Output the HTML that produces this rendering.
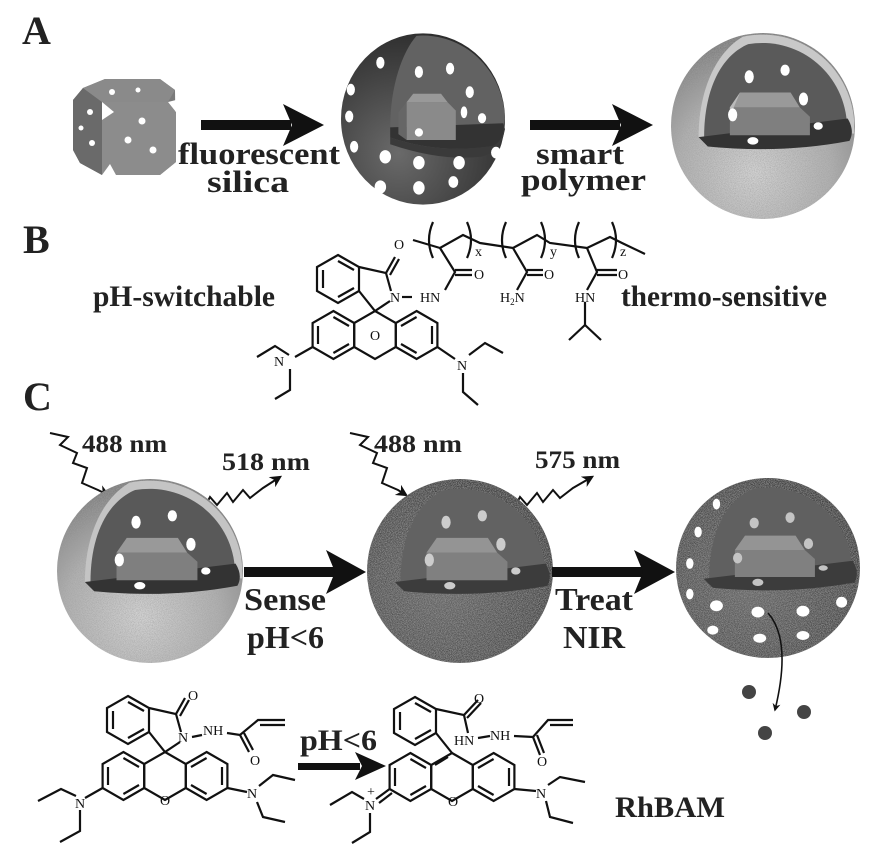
<!DOCTYPE html>
<html><head><meta charset="utf-8"><style>
html,body{margin:0;padding:0;background:#fff;}
svg{display:block;}
text{font-family:"Liberation Serif",serif;font-weight:bold;fill:#222;}
.at{font-family:"Liberation Serif",serif;font-weight:normal;font-size:14px;fill:#111;}
</style></head><body>
<svg width="884" height="858" viewBox="0 0 884 858" xmlns="http://www.w3.org/2000/svg">
<defs>
<radialGradient id="gDark" cx="0.35" cy="0.7" r="0.75"><stop offset="0" stop-color="#6a6a6a"/><stop offset="0.6" stop-color="#444"/><stop offset="1" stop-color="#2c2c2c"/></radialGradient>
<radialGradient id="gLight" cx="0.45" cy="0.75" r="0.7"><stop offset="0" stop-color="#d4d4d4"/><stop offset="0.6" stop-color="#b0b0b0"/><stop offset="1" stop-color="#808080"/></radialGradient>
<radialGradient id="gMid" cx="0.4" cy="0.6" r="0.7"><stop offset="0" stop-color="#666"/><stop offset="0.7" stop-color="#4a4a4a"/><stop offset="1" stop-color="#333"/></radialGradient>
<filter id="fuzz" x="-5%" y="-5%" width="110%" height="110%">
<feTurbulence type="fractalNoise" baseFrequency="1.1" numOctaves="2" seed="3" result="n"/>
<feColorMatrix in="n" type="matrix" values="0 0 0 0 0.35  0 0 0 0 0.35  0 0 0 0 0.35  0 0 0 1.6 -0.55" result="na"/>
<feComposite in="na" in2="SourceGraphic" operator="in" result="nc"/>
<feMerge><feMergeNode in="SourceGraphic"/><feMergeNode in="nc"/></feMerge>
</filter>
<marker id="ah" viewBox="0 0 10 10" refX="8" refY="5" markerWidth="6" markerHeight="6" orient="auto"><path d="M0,0 L10,5 L0,10 L3,5 Z" fill="#111"/></marker>
<marker id="ahs" viewBox="0 0 10 10" refX="8" refY="5" markerWidth="5" markerHeight="5" orient="auto"><path d="M0,0 L10,5 L0,10 L3,5 Z" fill="#111"/></marker>
</defs>

<text x="22" y="44" font-size="40">A</text>
<g>
<polygon points="83,88 105,79 160,79 175,90 176,162 160,175 102,175 80,163 73,150 73,100" fill="#7a7a7a"/>
<polygon points="73,100 83,88 102,102 102,175 80,163 73,150" fill="#6a6a6a"/>
<polygon points="83,88 105,79 160,79 175,90 168,102 102,102" fill="#8a8a8a"/>
<polygon points="102,102 168,102 176,112 176,162 160,175 102,175" fill="#8c8c8c"/>
<polygon points="102,102 114,112 102,120" fill="#fff"/>
<polygon points="168,102 176,100 176,112" fill="#fff"/>
<polygon points="102,175 110,164 116,175" fill="#fff"/>
<circle cx="112" cy="92" r="3" fill="#fff"/><circle cx="138" cy="90" r="2.5" fill="#fff"/>
<circle cx="90" cy="112" r="3" fill="#fff"/><circle cx="81" cy="128" r="2.5" fill="#fff"/><circle cx="92" cy="143" r="3" fill="#fff"/>
<circle cx="142" cy="121" r="3.5" fill="#fff"/><circle cx="128" cy="140" r="3.5" fill="#fff"/><circle cx="153" cy="150" r="3.5" fill="#fff"/>
</g>
<rect x="201" y="120" width="90" height="10" fill="#111"/>
<polygon points="283,104 324,125 283,146 292,125" fill="#111"/>
<rect x="530" y="120" width="90" height="10" fill="#111"/>
<polygon points="612,104 653,125 612,146 621,125" fill="#111"/>
<text x="178" y="164" font-size="31" textLength="162" lengthAdjust="spacingAndGlyphs">fluorescent</text>
<text x="207" y="192" font-size="31" textLength="82" lengthAdjust="spacingAndGlyphs">silica</text>
<text x="536" y="164" font-size="31" textLength="88" lengthAdjust="spacingAndGlyphs">smart</text>
<text x="521" y="190" font-size="31" textLength="125" lengthAdjust="spacingAndGlyphs">polymer</text>

<g transform="translate(423,119) scale(0.82,0.84)">
<ellipse cx="0" cy="0" rx="100" ry="102" fill="url(#gDark)"/>
<path d="M-40,10 C-40,-40 -25,-80 -8,-99 A100 102 0 0 1 100,0 L98,10 Z" fill="#626262"/>
<path d="M-40,10 L98,5 Q100,25 85,32 Q20,42 -40,22 Z" fill="#333"/>
<path d="M-40,22 Q20,42 85,32 Q100,25 98,5 L100,12 Q95,40 70,45 Q20,50 -40,30 Z" fill="#3a3a3a"/>
<polygon points="-20,-20 30,-20 40,-10 40,25 -20,25" fill="#8a8a8a"/>
<polygon points="-30,-8 -20,-20 -20,25 -30,18" fill="#666"/>
<polygon points="-20,-20 30,-20 22,-30 -12,-30" fill="#999"/>
<g fill="#fff">
<ellipse cx="-52" cy="-67" rx="5" ry="7"/><ellipse cx="-88" cy="-35" rx="5" ry="7"/><ellipse cx="-90" cy="-3" rx="5" ry="7"/>
<ellipse cx="-84" cy="33" rx="5" ry="7"/><ellipse cx="-46" cy="45" rx="7" ry="8"/><ellipse cx="-5" cy="52" rx="7" ry="8"/>
<ellipse cx="44" cy="52" rx="7" ry="8"/><ellipse cx="89" cy="40" rx="6" ry="7"/><ellipse cx="-52" cy="81" rx="7" ry="8"/>
<ellipse cx="-5" cy="82" rx="7" ry="8"/><ellipse cx="37" cy="75" rx="6" ry="7"/>
<ellipse cx="33" cy="-60" rx="5" ry="7"/><ellipse cx="-5" cy="-56" rx="5" ry="7"/><ellipse cx="57" cy="-32" rx="5" ry="7"/>
<ellipse cx="72" cy="-1" rx="5" ry="6"/><ellipse cx="-5" cy="16" rx="5" ry="5"/><ellipse cx="50" cy="-8" rx="4" ry="7"/>
</g>
</g>

<g transform="translate(763,126) scale(0.92,0.93)">
<ellipse cx="0" cy="0" rx="100" ry="100" fill="url(#gLight)" filter="url(#fuzz)"/>
<path d="M-70,12 C-70,-40 -50,-80 -22,-96 A100 100 0 0 1 99,-6 L99,8 Z" fill="#c8c8c8"/>
<path d="M-64,12 C-64,-40 -45,-76 -16,-88 A92 92 0 0 1 91,-6 L92,8 Z" fill="#5a5a5a"/>
<path d="M-70,12 L92,-8 Q100,5 94,16 Q20,30 -60,22 Z" fill="#333"/>
<polygon points="-36,-20 40,-20 51,-10 51,10 -36,10" fill="#7f7f7f"/>
<polygon points="-36,-20 40,-20 30,-36 -25,-36" fill="#999"/>
<polygon points="-36,-20 -25,-36 -36,-10" fill="#bbb"/>
<g fill="#fff">
<ellipse cx="-15" cy="-53" rx="5" ry="7"/><ellipse cx="24" cy="-60" rx="5" ry="6"/><ellipse cx="44" cy="-29" rx="5" ry="7"/>
<ellipse cx="-33" cy="-12" rx="5" ry="7"/><ellipse cx="60" cy="0" rx="5" ry="4"/><ellipse cx="-11" cy="16" rx="6" ry="4"/>
</g>
</g>

<text x="23" y="253" font-size="40">B</text>
<text x="93" y="306" font-size="30" textLength="182" lengthAdjust="spacingAndGlyphs">pH-switchable</text>
<text x="621" y="306" font-size="30" textLength="206" lengthAdjust="spacingAndGlyphs">thermo-sensitive</text>

<g transform="translate(375,335)" stroke="#111" stroke-width="2.2" fill="none">
<polygon points="0,-24 20.8,-12 20.8,12 0,24 -20.8,12 -20.8,-12"/>
<polygon points="-41.6,-24 -20.8,-12 -20.8,12 -41.6,24 -62.4,12 -62.4,-12"/>
<polygon points="41.6,-24 62.4,-12 62.4,12 41.6,24 20.8,12 20.8,-12"/>
<line x1="-57" y1="-9" x2="-57" y2="9"/><line x1="-41.6" y1="-18" x2="-26" y2="-9"/><line x1="-41.6" y1="18" x2="-26" y2="9"/>
<line x1="57" y1="-9" x2="57" y2="9"/><line x1="41.6" y1="-18" x2="26" y2="-9"/><line x1="41.6" y1="18" x2="26" y2="9"/>
<polygon points="-37,-80 -16,-68 -16,-44 -37,-32 -58,-44 -58,-68"/>
<line x1="-52" y1="-65" x2="-52" y2="-47"/><line x1="-37" y1="-74" x2="-21" y2="-65"/><line x1="-37" y1="-38" x2="-21" y2="-47"/>
<polyline points="-16,-44 0,-24 15,-34"/>
<polyline points="16,-44 11,-62 -16,-68"/>
<line x1="11" y1="-62" x2="20" y2="-78"/><line x1="15" y1="-60" x2="24" y2="-76"/>
<line x1="-62.4" y1="12" x2="-80" y2="22"/>
<polyline points="-86,20 -100,11 -118,22"/><polyline points="-85,34 -85,55 -100,64"/>
<line x1="62.4" y1="12" x2="80" y2="24"/>
<polyline points="94,20 110,8 128,18"/><polyline points="88,38 88,57 103,70"/>
<line x1="27" y1="-38" x2="37" y2="-38"/>
</g>
<text class="at" x="370" y="340" >O</text>
<text class="at" x="390" y="302">N</text>
<text class="at" x="420" y="302">HN</text>
<text class="at" x="394" y="249">O</text>
<text class="at" x="274" y="366">N</text>
<text class="at" x="457" y="370">N</text>
<g stroke="#111" stroke-width="2.2" fill="none">
<polyline points="413,240 440,248 463,235 480,243 513,248 537,235 550,243 587,248 610,237 622,243 645,254"/>
<path d="M433,222 Q425,240 433,258"/><path d="M467,222 Q475,240 467,258"/>
<path d="M506,222 Q498,240 506,258"/><path d="M541,222 Q549,240 541,258"/>
<path d="M579,222 Q571,240 579,258"/><path d="M612,222 Q620,240 612,258"/>
<polyline points="440,248 455,272 445,290"/><line x1="455" y1="270" x2="472" y2="270"/><line x1="455" y1="275" x2="472" y2="275"/>
<polyline points="513,248 527,272 517,290"/><line x1="527" y1="270" x2="543" y2="270"/><line x1="527" y1="275" x2="543" y2="275"/>
<polyline points="587,248 597,272 587,290"/><line x1="597" y1="270" x2="617" y2="270"/><line x1="597" y1="275" x2="617" y2="275"/>
<polyline points="585,302 585,325"/><line x1="585" y1="325" x2="569" y2="340"/><line x1="585" y1="325" x2="601" y2="340"/>
</g>
<text class="at" x="474" y="279">O</text>
<text class="at" x="544" y="279">O</text>
<text class="at" x="618" y="279">O</text>
<text class="at" x="500" y="302">H<tspan font-size="9" dy="3">2</tspan><tspan dy="-3">N</tspan></text>
<text class="at" x="575" y="302">HN</text>
<text class="at" x="475" y="256" font-size="11">x</text>
<text class="at" x="550" y="256" font-size="11">y</text>
<text class="at" x="620" y="256" font-size="11">z</text>

<text x="23" y="410" font-size="40">C</text>
<text x="82" y="452" font-size="25" textLength="85" lengthAdjust="spacingAndGlyphs">488 nm</text>
<text x="222" y="470" font-size="25" textLength="88" lengthAdjust="spacingAndGlyphs">518 nm</text>
<text x="374" y="452" font-size="25" textLength="88" lengthAdjust="spacingAndGlyphs">488 nm</text>
<text x="535" y="468" font-size="25" textLength="85" lengthAdjust="spacingAndGlyphs">575 nm</text>
<g stroke="#111" stroke-width="2" fill="none">
<polyline points="50,433 68,437 60,445 77,453 73,463 87,468 82,483 98,490 108,495" marker-end="url(#ah)"/>
<polyline points="202,512 210,497 217,505 227,493 233,502 243,490 250,498 263,488 280,477" marker-end="url(#ah)"/>
<polyline points="350,433 368,437 360,445 377,453 373,463 387,468 382,483 398,490 406,495" marker-end="url(#ah)"/>
<polyline points="512,512 520,497 527,505 537,493 543,502 553,490 560,498 573,488 592,477" marker-end="url(#ah)"/>
</g>

<g transform="translate(150,571) scale(0.93,0.92)">
<ellipse cx="0" cy="0" rx="100" ry="100" fill="url(#gLight)" filter="url(#fuzz)"/>
<path d="M-70,12 C-70,-40 -50,-80 -22,-96 A100 100 0 0 1 99,-6 L99,8 Z" fill="#c4c4c4"/>
<path d="M-64,12 C-64,-40 -45,-76 -16,-88 A92 92 0 0 1 91,-6 L92,8 Z" fill="#595959"/>
<path d="M-70,12 L92,-8 Q100,5 94,16 Q20,30 -60,22 Z" fill="#333"/>
<polygon points="-36,-20 40,-20 51,-10 51,10 -36,10" fill="#7f7f7f"/>
<polygon points="-36,-20 40,-20 30,-36 -25,-36" fill="#999"/>
<g fill="#fff">
<ellipse cx="-15" cy="-53" rx="5" ry="7"/><ellipse cx="24" cy="-60" rx="5" ry="6"/><ellipse cx="44" cy="-29" rx="5" ry="7"/>
<ellipse cx="-33" cy="-12" rx="5" ry="7"/><ellipse cx="60" cy="0" rx="5" ry="4"/><ellipse cx="-11" cy="16" rx="6" ry="4"/>
</g>
</g>
<g transform="translate(460,571) scale(0.93,0.92)">
<ellipse cx="0" cy="0" rx="100" ry="100" fill="url(#gMid)" filter="url(#fuzz)"/>
<path d="M-64,12 C-64,-40 -45,-76 -16,-88 A92 92 0 0 1 91,-6 L92,8 Z" fill="#626262"/>
<path d="M-70,12 L92,-8 Q100,5 94,16 Q20,30 -60,22 Z" fill="#3c3c3c"/>
<polygon points="-36,-20 40,-20 51,-10 51,10 -36,10" fill="#808080"/>
<polygon points="-36,-20 40,-20 30,-36 -25,-36" fill="#949494"/>
<g fill="#ccc">
<ellipse cx="-15" cy="-53" rx="5" ry="7"/><ellipse cx="24" cy="-60" rx="5" ry="6"/><ellipse cx="44" cy="-29" rx="5" ry="7"/>
<ellipse cx="-33" cy="-12" rx="5" ry="7"/><ellipse cx="60" cy="0" rx="5" ry="4"/><ellipse cx="-11" cy="16" rx="6" ry="4"/>
</g>
</g>
<g transform="translate(768,568) scale(0.92,0.9)">
<ellipse cx="0" cy="0" rx="100" ry="100" fill="url(#gMid)" filter="url(#fuzz)"/>
<path d="M-64,12 C-64,-40 -45,-76 -16,-88 A92 92 0 0 1 91,-6 L92,8 Z" fill="#606060"/>
<path d="M-70,12 L92,-8 Q100,5 94,16 Q20,30 -60,22 Z" fill="#3c3c3c"/>
<polygon points="-36,-20 40,-20 51,-10 51,10 -36,10" fill="#808080"/>
<polygon points="-36,-20 40,-20 30,-36 -25,-36" fill="#949494"/>
<g fill="#fff">
<ellipse cx="-56" cy="-71" rx="4" ry="6"/><ellipse cx="-76" cy="-40" rx="4" ry="6"/><ellipse cx="-85" cy="-5" rx="4" ry="6"/>
<ellipse cx="-85" cy="29" rx="4" ry="6"/><ellipse cx="-56" cy="42" rx="7" ry="6"/><ellipse cx="-11" cy="49" rx="7" ry="6"/>
<ellipse cx="38" cy="48" rx="7" ry="6"/><ellipse cx="80" cy="38" rx="6" ry="6"/><ellipse cx="-60" cy="69" rx="6" ry="5"/>
<ellipse cx="-9" cy="78" rx="7" ry="5"/><ellipse cx="38" cy="75" rx="7" ry="5"/>
</g>
<g fill="#c4c4c4">
<ellipse cx="-15" cy="-50" rx="5" ry="6"/><ellipse cx="24" cy="-56" rx="5" ry="6"/><ellipse cx="44" cy="-27" rx="5" ry="6"/>
<ellipse cx="-33" cy="-11" rx="5" ry="6"/><ellipse cx="60" cy="0" rx="5" ry="3"/><ellipse cx="-11" cy="16" rx="6" ry="4"/>
</g>
</g>
<rect x="244" y="567" width="92" height="10" fill="#111"/>
<polygon points="326,550 366,572 326,594 335,572" fill="#111"/>
<rect x="552" y="567" width="92" height="10" fill="#111"/>
<polygon points="634,550 675,572 634,594 643,572" fill="#111"/>
<text x="244" y="610" font-size="32" textLength="82" lengthAdjust="spacingAndGlyphs">Sense</text>
<text x="247" y="648" font-size="32" textLength="77" lengthAdjust="spacingAndGlyphs">pH&lt;6</text>
<text x="555" y="610" font-size="32" textLength="78" lengthAdjust="spacingAndGlyphs">Treat</text>
<text x="563" y="648" font-size="32" textLength="62" lengthAdjust="spacingAndGlyphs">NIR</text>
<path d="M768,613 Q792,640 775,710" stroke="#111" stroke-width="1.6" fill="none" marker-end="url(#ahs)"/>
<circle cx="749" cy="692" r="7" fill="#444"/><circle cx="804" cy="712" r="7" fill="#444"/><circle cx="765" cy="733" r="7" fill="#444"/>

<g transform="translate(165,776)" stroke="#111" stroke-width="2.2" fill="none">
<polygon points="0,-24 20.8,-12 20.8,12 0,24 -20.8,12 -20.8,-12"/>
<polygon points="-41.6,-24 -20.8,-12 -20.8,12 -41.6,24 -62.4,12 -62.4,-12"/>
<polygon points="41.6,-24 62.4,-12 62.4,12 41.6,24 20.8,12 20.8,-12"/>
<line x1="-57" y1="-9" x2="-57" y2="9"/><line x1="-41.6" y1="-18" x2="-26" y2="-9"/><line x1="-41.6" y1="18" x2="-26" y2="9"/>
<line x1="57" y1="-9" x2="57" y2="9"/><line x1="41.6" y1="-18" x2="26" y2="-9"/><line x1="41.6" y1="18" x2="26" y2="9"/>
<polygon points="-37,-80 -16,-68 -16,-44 -37,-32 -58,-44 -58,-68"/>
<line x1="-52" y1="-65" x2="-52" y2="-47"/><line x1="-37" y1="-74" x2="-21" y2="-65"/><line x1="-37" y1="-38" x2="-21" y2="-47"/>
<polyline points="-16,-44 0,-24 15,-34"/>
<polyline points="16,-44 11,-62 -16,-68"/>
<line x1="11" y1="-62" x2="20" y2="-78"/><line x1="15" y1="-60" x2="24" y2="-76"/>
<line x1="-62.4" y1="12" x2="-80" y2="22"/>
<polyline points="-89,20 -104,13 -127,25"/><polyline points="-85,34 -85,55 -105,66"/>
<line x1="62.4" y1="12" x2="82" y2="16"/>
<polyline points="94,10 108,-1 130,4"/><polyline points="92,26 98,41 120,46"/>
<line x1="27" y1="-39" x2="37" y2="-41"/>
<polyline points="62,-43 75,-41 93,-56 120,-56"/><line x1="95" y1="-51" x2="120" y2="-51"/>
<line x1="75" y1="-41" x2="84" y2="-24"/><line x1="79" y1="-43" x2="88" y2="-26"/>
</g>
<text class="at" x="160" y="805">O</text>
<text class="at" x="178" y="742">N</text>
<text class="at" x="203" y="735">NH</text>
<text class="at" x="188" y="700">O</text>
<text class="at" x="250" y="765">O</text>
<text class="at" x="75" y="808">N</text>
<text class="at" x="247" y="798">N</text>
<text x="300" y="750" font-size="30" textLength="77" lengthAdjust="spacingAndGlyphs">pH&lt;6</text>
<rect x="298" y="763" width="62" height="7" fill="#111"/>
<polygon points="355,752 386,766 355,780 362,766" fill="#111"/>
<g transform="translate(452,777)" stroke="#111" stroke-width="2.2" fill="none">
<polygon points="0,-24 20.8,-12 20.8,12 0,24 -20.8,12 -20.8,-12"/>
<polygon points="-41.6,-24 -20.8,-12 -20.8,12 -41.6,24 -62.4,12 -62.4,-12"/>
<polygon points="41.6,-24 62.4,-12 62.4,12 41.6,24 20.8,12 20.8,-12"/>
<line x1="-57" y1="-9" x2="-57" y2="9"/><line x1="-41.6" y1="-18" x2="-26" y2="-9"/><line x1="-41.6" y1="18" x2="-26" y2="9"/>
<line x1="57" y1="-9" x2="57" y2="9"/><line x1="41.6" y1="-18" x2="26" y2="-9"/><line x1="41.6" y1="18" x2="26" y2="9"/>
<line x1="-4" y1="-20" x2="-17" y2="-12"/>
<polygon points="-37,-80 -16,-68 -16,-44 -37,-32 -58,-44 -58,-68"/>
<line x1="-52" y1="-65" x2="-52" y2="-47"/><line x1="-37" y1="-74" x2="-21" y2="-65"/><line x1="-37" y1="-38" x2="-21" y2="-47"/>
<line x1="-16" y1="-44" x2="0" y2="-24"/>
<polyline points="-16,-68 12,-62 16,-44"/>
<line x1="12" y1="-62" x2="26" y2="-77"/><line x1="15" y1="-59" x2="29" y2="-74"/>
<line x1="-62.4" y1="12" x2="-76" y2="22"/><line x1="-60" y1="16" x2="-73" y2="26"/>
<polyline points="-88,22 -100,15 -122,28"/><polyline points="-82,36 -82,55 -100,66"/>
<line x1="62.4" y1="12" x2="84" y2="14"/>
<polyline points="96,8 108,0 133,5"/><polyline points="94,24 98,40 121,46"/>
<line x1="26" y1="-39" x2="38" y2="-41"/>
<polyline points="62,-41 81,-40 96,-57 121,-57"/><line x1="98" y1="-52" x2="121" y2="-52"/>
<line x1="81" y1="-40" x2="88" y2="-22"/><line x1="85" y1="-42" x2="92" y2="-24"/>
</g>
<text class="at" x="448" y="806">O</text>
<text class="at" x="454" y="745">HN</text>
<text class="at" x="490" y="740">NH</text>
<text class="at" x="474" y="703">O</text>
<text class="at" x="537" y="766">O</text>
<text class="at" x="365" y="810">N</text>
<text class="at" x="367" y="796" font-size="12">+</text>
<text class="at" x="536" y="798">N</text>
<text x="615" y="817" font-size="30" textLength="110" lengthAdjust="spacingAndGlyphs">RhBAM</text>
</svg>
</body></html>
